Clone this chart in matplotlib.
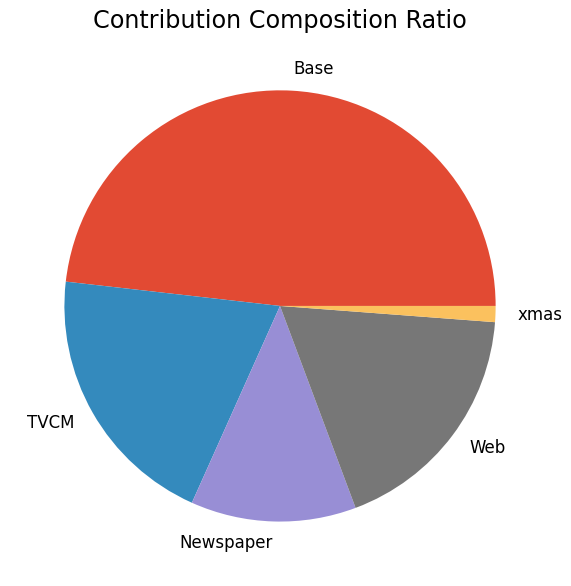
import matplotlib
matplotlib.use("Agg")
import matplotlib.pyplot as plt

plt.style.use('ggplot')

labels = ['Base', 'TVCM', 'Newspaper', 'Web', 'xmas']
ratios = [48.2, 20.1, 12.4, 18.1, 1.2]

fig = plt.figure(figsize=(5.71, 5.86), dpi=100)
ax = fig.add_axes([0.0184, 0.0179, 0.944, 0.920])
ax.pie(ratios, labels=labels, textprops={'fontsize': 12})
ax.set_title('Contribution Composition Ratio', fontsize=17.2)
plt.savefig('out.png', dpi=100)
